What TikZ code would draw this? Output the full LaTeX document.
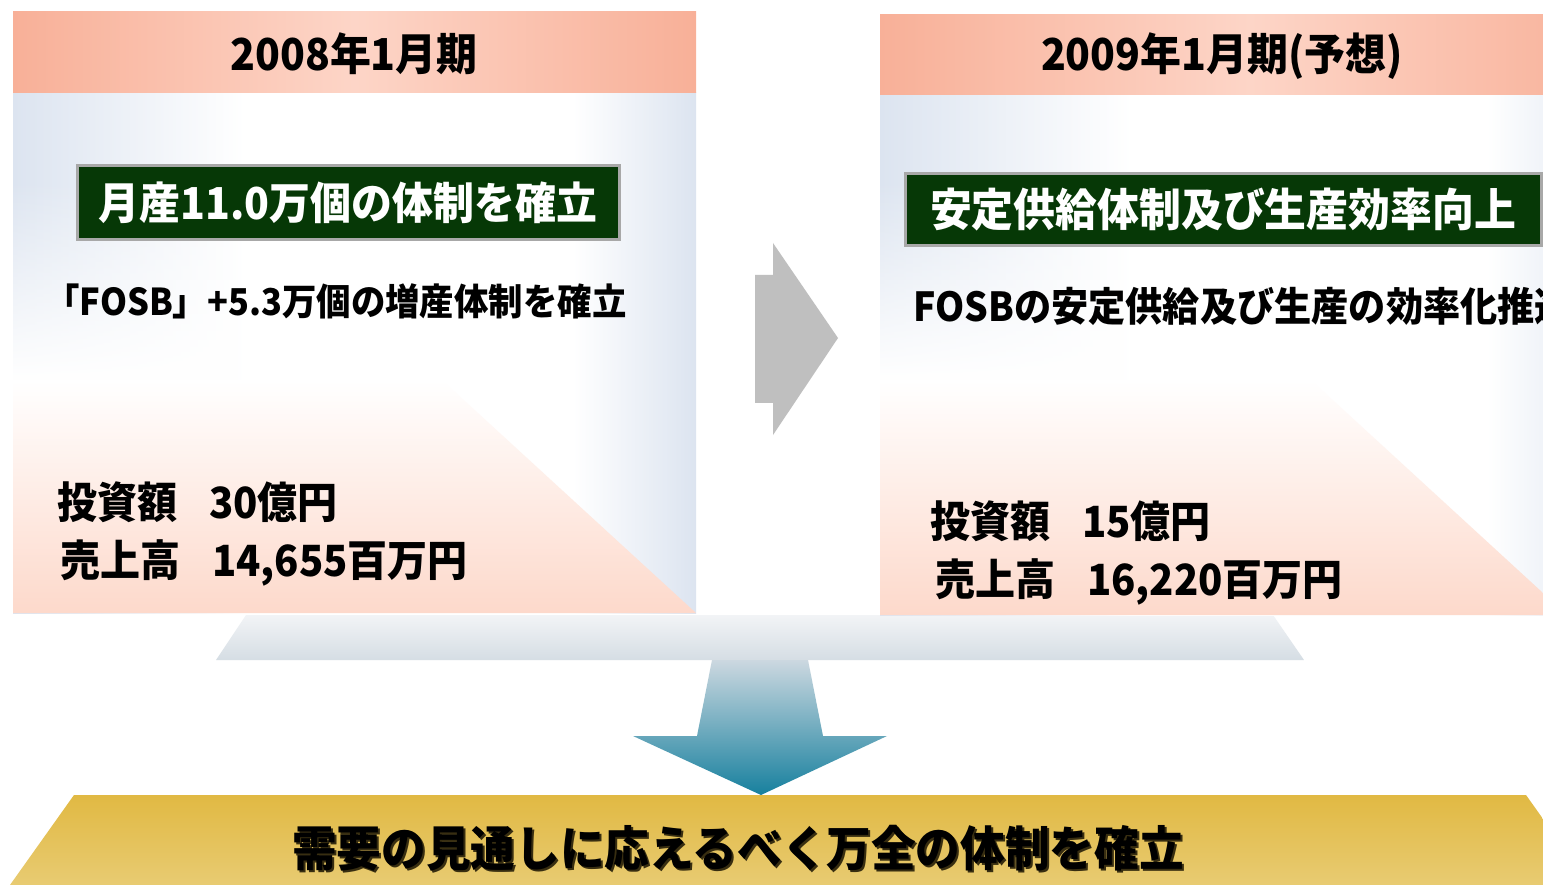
\documentclass[tikz,border=0pt]{standalone}
\usepackage{fontspec}
\newfontfamily\jp[FakeStretch=0.93]{Noto Sans CJK JP}
\usetikzlibrary{fadings}
\definecolor{salmonD}{HTML}{F8B098}
\definecolor{salmonL}{HTML}{FDD5C7}
\definecolor{salmonB}{HTML}{FDD9CB}
\definecolor{bodyblue}{HTML}{DCE4F0}
\definecolor{boxgreen}{HTML}{063806}
\definecolor{boxborder}{HTML}{A8A8A8}
\definecolor{arrowgray}{HTML}{BFBFBF}
\definecolor{funtop}{HTML}{F2F4F6}
\definecolor{funbot}{HTML}{D5DDE4}
\definecolor{shafttop}{HTML}{CCD8E0}
\definecolor{shaftmid}{HTML}{86A9BB}
\definecolor{shaftbot}{HTML}{17809E}
\definecolor{goldtop}{HTML}{E1B943}
\definecolor{goldbot}{HTML}{E8CB72}
\pgfdeclarehorizontalshading{bodyshade}{100bp}{color(0bp)=(bodyblue); color(25bp)=(bodyblue); color(42bp)=(white); color(66bp)=(white); color(75bp)=(bodyblue); color(100bp)=(bodyblue)}
\begin{document}
\begin{tikzpicture}[x=1pt,y=-1pt,
  every node/.style={inner sep=0pt},
  hdr/.style={font=\jp\bfseries\fontsize{44}{50}\selectfont},
  gbox/.style={fill=boxgreen, draw=boxborder, line width=3pt, text=white},
  gfont/.style={font=\jp\bfseries\fontsize{#1}{50}\selectfont},
  subtxt/.style={anchor=west, font=\jp\bfseries\fontsize{#1}{46}\selectfont},
  figtxt/.style={anchor=west, font=\jp\bfseries\fontsize{43}{50}\selectfont},
  bottxt/.style={font=\jp\bfseries\fontsize{48}{54}\selectfont},
  hband/.style={left color=salmonD, right color=salmonD, middle color=salmonL}]
\clip (0,0) rectangle (1543,885);
\fill[white] (0,0) rectangle (1543,885);

% ---- funnel arrow ----
\shade[top color=funtop, bottom color=funbot]
  (246,615) -- (1273,615) -- (1304,660) -- (216,660) -- cycle;
\shade[top color=shafttop, middle color=shaftmid, bottom color=shaftbot]
  (712,660) -- (808,660) -- (823,736) -- (887,736) -- (761,795) -- (633,736) -- (697,736) -- cycle;

% ---- left panel ----
\shade[shading=bodyshade] (13,93) rectangle (696,613);
\fill[white, path fading=north] (13,180) -- (224,180) -- (442,380) -- (13,380) -- cycle;
\shade[top color=white, bottom color=salmonB] (13,380) -- (442,380) -- (696,613) -- (13,613) -- cycle;
\shade[hband] (13,12) rectangle (696,93);
\node[hdr] (h1) at (354,54) {2008年1月期};
\node[gbox, gfont=44, minimum width=542, minimum height=74] (g1) at (348,203) {月産11.0万個の体制を確立};
\node[subtxt=37] (s1) at (45,301) {「FOSB」+5.3万個の増産体制を確立};
\node[figtxt] (i1) at (57,502) {投資額\hspace{32pt}30億円};
\node[figtxt] (r1) at (60,563) {売上高\hspace{32pt}14,655百万円};

% ---- right panel ----
\shade[shading=bodyshade] (880,95) rectangle (1620,615);
\fill[white, path fading=north] (880,180) -- (1093,180) -- (1311,380) -- (880,380) -- cycle;
\shade[top color=white, bottom color=salmonB] (880,380) -- (1311,380) -- (1567,615) -- (880,615) -- cycle;
\shade[hband] (880,15) rectangle (1620,95);
\node[hdr] (h2) at (1222,56) {2009年1月期(予想)};
\node[gbox, gfont=45, minimum width=636, minimum height=72] (g2) at (1223,210) {安定供給体制及び生産効率向上};
\node[subtxt=40] (s2) at (913,306) {FOSBの安定供給及び生産の効率化推進};
\node[figtxt] (i2) at (930,521) {投資額\hspace{32pt}15億円};
\node[figtxt] (r2) at (935,582) {売上高\hspace{32pt}16,220百万円};

% ---- middle arrow ----
\fill[arrowgray] (755,275) -- (773,275) -- (773,243) -- (838,338) -- (773,435) -- (773,403) -- (755,403) -- cycle;

% ---- bottom band ----
\shade[top color=goldtop, bottom color=goldbot]
  (74,795) -- (1526,795) -- (1590,885) -- (10,885) -- cycle;
\node[bottxt, text=black!75!goldtop] at (740,850) {需要の見通しに応えるべく万全の体制を確立};
\node[bottxt] (b) at (738,848) {需要の見通しに応えるべく万全の体制を確立};
\end{tikzpicture}
\end{document}
